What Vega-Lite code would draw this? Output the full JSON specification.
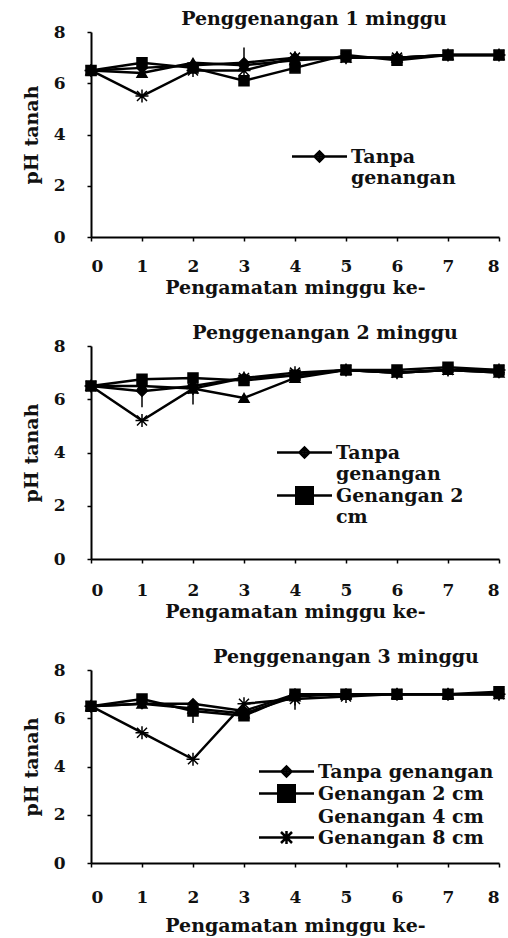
{
  "$schema": "https://vega.github.io/schema/vega-lite/v6.json",
  "background": "white",
  "padding": {"left": 22, "top": 10, "right": 2, "bottom": 2},
  "spacing": 27,
  "config": {
    "view": {"stroke": null},
    "font": "DejaVu Serif",
    "axis": {"domainColor": "black", "domainWidth": 2, "tickColor": "black", "tickWidth": 1.5, "tickSize": 4, "labelFont": "DejaVu Serif", "labelFontSize": 17, "labelFontWeight": "bold", "labelColor": "#111", "titleFont": "DejaVu Serif", "titleFontSize": 19, "titleFontWeight": "bold", "titleColor": "#111", "grid": false},
    "title": {"font": "DejaVu Serif", "fontSize": 19, "fontWeight": "bold", "color": "#111", "offset": -6, "anchor": "middle"},
    "legend": {"symbolSize": 121, "symbolFillColor": "transparent", "symbolStrokeColor": "black", "symbolStrokeWidth": 2.5, "labelFont": "DejaVu Serif", "labelFontSize": 19, "labelFontWeight": "bold", "labelColor": "#111", "labelOffset": 44, "labelLimit": 300, "rowPadding": -2, "labelBaseline": "middle"}
  },
  "datasets": {
    "ph": [
      {"panel":1,"seri":"Tanpa genangan","minggu":0,"pH":6.5},{"panel":1,"seri":"Tanpa genangan","minggu":1,"pH":6.6},{"panel":1,"seri":"Tanpa genangan","minggu":2,"pH":6.7},{"panel":1,"seri":"Tanpa genangan","minggu":3,"pH":6.8},{"panel":1,"seri":"Tanpa genangan","minggu":4,"pH":7.0},{"panel":1,"seri":"Tanpa genangan","minggu":5,"pH":7.0},{"panel":1,"seri":"Tanpa genangan","minggu":6,"pH":7.0},{"panel":1,"seri":"Tanpa genangan","minggu":7,"pH":7.1},{"panel":1,"seri":"Tanpa genangan","minggu":8,"pH":7.1},
      {"panel":1,"seri":"Genangan 2 cm","minggu":0,"pH":6.5},{"panel":1,"seri":"Genangan 2 cm","minggu":1,"pH":6.8},{"panel":1,"seri":"Genangan 2 cm","minggu":2,"pH":6.6},{"panel":1,"seri":"Genangan 2 cm","minggu":3,"pH":6.1},{"panel":1,"seri":"Genangan 2 cm","minggu":4,"pH":6.6},{"panel":1,"seri":"Genangan 2 cm","minggu":5,"pH":7.1},{"panel":1,"seri":"Genangan 2 cm","minggu":6,"pH":6.9},{"panel":1,"seri":"Genangan 2 cm","minggu":7,"pH":7.1},{"panel":1,"seri":"Genangan 2 cm","minggu":8,"pH":7.1},
      {"panel":1,"seri":"Genangan 4 cm","minggu":0,"pH":6.5},{"panel":1,"seri":"Genangan 4 cm","minggu":1,"pH":6.4},{"panel":1,"seri":"Genangan 4 cm","minggu":2,"pH":6.8},{"panel":1,"seri":"Genangan 4 cm","minggu":3,"pH":6.7},{"panel":1,"seri":"Genangan 4 cm","minggu":4,"pH":6.9},{"panel":1,"seri":"Genangan 4 cm","minggu":5,"pH":7.0},{"panel":1,"seri":"Genangan 4 cm","minggu":6,"pH":7.0},{"panel":1,"seri":"Genangan 4 cm","minggu":7,"pH":7.1},{"panel":1,"seri":"Genangan 4 cm","minggu":8,"pH":7.1},
      {"panel":1,"seri":"Genangan 8 cm","minggu":0,"pH":6.5},{"panel":1,"seri":"Genangan 8 cm","minggu":1,"pH":5.5},{"panel":1,"seri":"Genangan 8 cm","minggu":2,"pH":6.5},{"panel":1,"seri":"Genangan 8 cm","minggu":3,"pH":6.5},{"panel":1,"seri":"Genangan 8 cm","minggu":4,"pH":7.0},{"panel":1,"seri":"Genangan 8 cm","minggu":5,"pH":7.0},{"panel":1,"seri":"Genangan 8 cm","minggu":6,"pH":7.0},{"panel":1,"seri":"Genangan 8 cm","minggu":7,"pH":7.1},{"panel":1,"seri":"Genangan 8 cm","minggu":8,"pH":7.1},
      {"panel":2,"seri":"Tanpa genangan","minggu":0,"pH":6.5},{"panel":2,"seri":"Tanpa genangan","minggu":1,"pH":6.3},{"panel":2,"seri":"Tanpa genangan","minggu":2,"pH":6.5},{"panel":2,"seri":"Tanpa genangan","minggu":3,"pH":6.8},{"panel":2,"seri":"Tanpa genangan","minggu":4,"pH":6.9},{"panel":2,"seri":"Tanpa genangan","minggu":5,"pH":7.1},{"panel":2,"seri":"Tanpa genangan","minggu":6,"pH":7.0},{"panel":2,"seri":"Tanpa genangan","minggu":7,"pH":7.1},{"panel":2,"seri":"Tanpa genangan","minggu":8,"pH":7.0},
      {"panel":2,"seri":"Genangan 2 cm","minggu":0,"pH":6.5},{"panel":2,"seri":"Genangan 2 cm","minggu":1,"pH":6.75},{"panel":2,"seri":"Genangan 2 cm","minggu":2,"pH":6.8},{"panel":2,"seri":"Genangan 2 cm","minggu":3,"pH":6.7},{"panel":2,"seri":"Genangan 2 cm","minggu":4,"pH":6.9},{"panel":2,"seri":"Genangan 2 cm","minggu":5,"pH":7.1},{"panel":2,"seri":"Genangan 2 cm","minggu":6,"pH":7.1},{"panel":2,"seri":"Genangan 2 cm","minggu":7,"pH":7.2},{"panel":2,"seri":"Genangan 2 cm","minggu":8,"pH":7.1},
      {"panel":2,"seri":"Genangan 4 cm","minggu":0,"pH":6.5},{"panel":2,"seri":"Genangan 4 cm","minggu":1,"pH":6.5},{"panel":2,"seri":"Genangan 4 cm","minggu":2,"pH":6.4},{"panel":2,"seri":"Genangan 4 cm","minggu":3,"pH":6.05},{"panel":2,"seri":"Genangan 4 cm","minggu":4,"pH":6.8},{"panel":2,"seri":"Genangan 4 cm","minggu":5,"pH":7.1},{"panel":2,"seri":"Genangan 4 cm","minggu":6,"pH":7.0},{"panel":2,"seri":"Genangan 4 cm","minggu":7,"pH":7.1},{"panel":2,"seri":"Genangan 4 cm","minggu":8,"pH":7.0},
      {"panel":2,"seri":"Genangan 8 cm","minggu":0,"pH":6.5},{"panel":2,"seri":"Genangan 8 cm","minggu":1,"pH":5.2},{"panel":2,"seri":"Genangan 8 cm","minggu":2,"pH":6.4},{"panel":2,"seri":"Genangan 8 cm","minggu":3,"pH":6.8},{"panel":2,"seri":"Genangan 8 cm","minggu":4,"pH":7.0},{"panel":2,"seri":"Genangan 8 cm","minggu":5,"pH":7.1},{"panel":2,"seri":"Genangan 8 cm","minggu":6,"pH":7.0},{"panel":2,"seri":"Genangan 8 cm","minggu":7,"pH":7.1},{"panel":2,"seri":"Genangan 8 cm","minggu":8,"pH":7.1},
      {"panel":3,"seri":"Tanpa genangan","minggu":0,"pH":6.5},{"panel":3,"seri":"Tanpa genangan","minggu":1,"pH":6.6},{"panel":3,"seri":"Tanpa genangan","minggu":2,"pH":6.6},{"panel":3,"seri":"Tanpa genangan","minggu":3,"pH":6.3},{"panel":3,"seri":"Tanpa genangan","minggu":4,"pH":7.0},{"panel":3,"seri":"Tanpa genangan","minggu":5,"pH":7.0},{"panel":3,"seri":"Tanpa genangan","minggu":6,"pH":7.0},{"panel":3,"seri":"Tanpa genangan","minggu":7,"pH":7.0},{"panel":3,"seri":"Tanpa genangan","minggu":8,"pH":7.0},
      {"panel":3,"seri":"Genangan 2 cm","minggu":0,"pH":6.5},{"panel":3,"seri":"Genangan 2 cm","minggu":1,"pH":6.8},{"panel":3,"seri":"Genangan 2 cm","minggu":2,"pH":6.3},{"panel":3,"seri":"Genangan 2 cm","minggu":3,"pH":6.1},{"panel":3,"seri":"Genangan 2 cm","minggu":4,"pH":7.0},{"panel":3,"seri":"Genangan 2 cm","minggu":5,"pH":7.0},{"panel":3,"seri":"Genangan 2 cm","minggu":6,"pH":7.0},{"panel":3,"seri":"Genangan 2 cm","minggu":7,"pH":7.0},{"panel":3,"seri":"Genangan 2 cm","minggu":8,"pH":7.1},
      {"panel":3,"seri":"Genangan 4 cm","minggu":0,"pH":6.5},{"panel":3,"seri":"Genangan 4 cm","minggu":1,"pH":6.6},{"panel":3,"seri":"Genangan 4 cm","minggu":2,"pH":6.4},{"panel":3,"seri":"Genangan 4 cm","minggu":3,"pH":6.2},{"panel":3,"seri":"Genangan 4 cm","minggu":4,"pH":6.9},{"panel":3,"seri":"Genangan 4 cm","minggu":5,"pH":7.0},{"panel":3,"seri":"Genangan 4 cm","minggu":6,"pH":7.0},{"panel":3,"seri":"Genangan 4 cm","minggu":7,"pH":7.0},{"panel":3,"seri":"Genangan 4 cm","minggu":8,"pH":7.0},
      {"panel":3,"seri":"Genangan 8 cm","minggu":0,"pH":6.5},{"panel":3,"seri":"Genangan 8 cm","minggu":1,"pH":5.4},{"panel":3,"seri":"Genangan 8 cm","minggu":2,"pH":4.3},{"panel":3,"seri":"Genangan 8 cm","minggu":3,"pH":6.6},{"panel":3,"seri":"Genangan 8 cm","minggu":4,"pH":6.8},{"panel":3,"seri":"Genangan 8 cm","minggu":5,"pH":6.9},{"panel":3,"seri":"Genangan 8 cm","minggu":6,"pH":7.0},{"panel":3,"seri":"Genangan 8 cm","minggu":7,"pH":7.0},{"panel":3,"seri":"Genangan 8 cm","minggu":8,"pH":7.0}
    ],
    "err": [
      {"panel":1,"minggu":3,"lo":6.7,"hi":7.4},
      {"panel":2,"minggu":1,"lo":5.7,"hi":6.3},
      {"panel":2,"minggu":2,"lo":5.8,"hi":6.4},
      {"panel":3,"minggu":2,"lo":5.8,"hi":6.3},
      {"panel":3,"minggu":4,"lo":6.35,"hi":6.8}
    ]
  },
  "vconcat": [
    {
      "width": 408, "height": 205,
      "title": {"text": "Penggenangan 1 minggu", "dx": 19},
      "data": {"name": "ph"},
      "transform": [{"filter": "datum.panel == 1"}],
      "encoding": {
        "x": {"field": "minggu", "type": "quantitative", "scale": {"domain": [0, 8], "nice": false}, "axis": {"values": [0,1,2,3,4,5,6,7,8], "title": "Pengamatan minggu ke-", "labelPadding": 17, "titlePadding": 4}},
        "y": {"field": "pH", "type": "quantitative", "scale": {"domain": [0, 8]}, "axis": {"values": [0,2,4,6,8], "title": "pH tanah", "labelPadding": 22, "titlePadding": 12}}
      },
      "layer": [
        {"data": {"name": "err"}, "transform": [{"filter": "datum.panel == 1"}], "mark": {"type": "rule", "color": "black", "strokeWidth": 1.5}, "encoding": {"y": {"field": "lo", "type": "quantitative"}, "y2": {"field": "hi"}}},
        {"mark": {"type": "line", "color": "black", "strokeWidth": 2.5}, "encoding": {"detail": {"field": "seri", "type": "nominal"}}},
        {"mark": {"type": "point", "filled": true, "color": "black", "stroke": "black", "strokeWidth": 1.5, "size": 100, "opacity": 1}, "encoding": {"shape": {"field": "seri", "type": "nominal", "scale": {"domain": ["Tanpa genangan","Genangan 2 cm","Genangan 4 cm","Genangan 8 cm"], "range": ["diamond","square","triangle-up","M-1,-1L1,1M-1,1L1,-1M0,-1.3L0,1.3M-1.3,0L1.3,0"]}, "legend": null}}},
        {"transform": [{"filter": "datum.minggu < 0"}], "mark": {"type": "point", "filled": false, "color": "black", "strokeWidth": 2.5, "opacity": 1}, "encoding": {"shape": {"field": "seri", "type": "nominal", "scale": {"domain": ["Tanpa genangan","Genangan 2 cm","Genangan 4 cm","Genangan 8 cm"], "range": ["M-1,0L9,0M3.1,0L4,-0.9L4.9,0L4,0.9ZM3.5,0L4.5,0M4,-0.5L4,0.5","M-1,0L9,0M2.5,-1.5L5.5,-1.5L5.5,1.5L2.5,1.5ZM2.5,-1.05L5.5,-1.05M2.5,-0.6L5.5,-0.6M2.5,-0.15L5.5,-0.15M2.5,0.3L5.5,0.3M2.5,0.75L5.5,0.75M2.5,1.2L5.5,1.2","M0,0L0,0","M-1,0L9,0M3,-1L5,1M3,1L5,-1M4,-1.2L4,1.2"]}, "legend": {"values": ["Tanpa genangan"], "orient": "none", "legendX": 197, "legendY": 115, "title": null, "labelExpr": "datum.label == 'Tanpa genangan' ? ['Tanpa', 'genangan'] : datum.label"}}}}
      ],
      "resolve": {"scale": {"shape": "independent"}}
    },
    {
      "width": 408, "height": 213,
      "title": {"text": "Penggenangan 2 minggu", "dx": 30},
      "data": {"name": "ph"},
      "transform": [{"filter": "datum.panel == 2"}],
      "encoding": {
        "x": {"field": "minggu", "type": "quantitative", "scale": {"domain": [0, 8], "nice": false}, "axis": {"values": [0,1,2,3,4,5,6,7,8], "title": "Pengamatan minggu ke-", "labelPadding": 19, "titlePadding": 4}},
        "y": {"field": "pH", "type": "quantitative", "scale": {"domain": [0, 8]}, "axis": {"values": [0,2,4,6,8], "title": "pH tanah", "labelPadding": 22, "titlePadding": 12}}
      },
      "layer": [
        {"data": {"name": "err"}, "transform": [{"filter": "datum.panel == 2"}], "mark": {"type": "rule", "color": "black", "strokeWidth": 1.5}, "encoding": {"y": {"field": "lo", "type": "quantitative"}, "y2": {"field": "hi"}}},
        {"mark": {"type": "line", "color": "black", "strokeWidth": 2.5}, "encoding": {"detail": {"field": "seri", "type": "nominal"}}},
        {"mark": {"type": "point", "filled": true, "color": "black", "stroke": "black", "strokeWidth": 1.5, "size": 100, "opacity": 1}, "encoding": {"shape": {"field": "seri", "type": "nominal", "scale": {"domain": ["Tanpa genangan","Genangan 2 cm","Genangan 4 cm","Genangan 8 cm"], "range": ["diamond","square","triangle-up","M-1,-1L1,1M-1,1L1,-1M0,-1.3L0,1.3M-1.3,0L1.3,0"]}, "legend": null}}},
        {"transform": [{"filter": "datum.minggu < 0"}], "mark": {"type": "point", "filled": false, "color": "black", "strokeWidth": 2.5, "opacity": 1}, "encoding": {"shape": {"field": "seri", "type": "nominal", "scale": {"domain": ["Tanpa genangan","Genangan 2 cm","Genangan 4 cm","Genangan 8 cm"], "range": ["M-1,0L9,0M3.1,0L4,-0.9L4.9,0L4,0.9ZM3.5,0L4.5,0M4,-0.5L4,0.5","M-1,0L9,0M2.5,-1.5L5.5,-1.5L5.5,1.5L2.5,1.5ZM2.5,-1.05L5.5,-1.05M2.5,-0.6L5.5,-0.6M2.5,-0.15L5.5,-0.15M2.5,0.3L5.5,0.3M2.5,0.75L5.5,0.75M2.5,1.2L5.5,1.2","M0,0L0,0","M-1,0L9,0M3,-1L5,1M3,1L5,-1M4,-1.2L4,1.2"]}, "legend": {"values": ["Tanpa genangan","Genangan 2 cm"], "orient": "none", "legendX": 182, "legendY": 97, "title": null, "rowPadding": -2, "labelExpr": "datum.label == 'Tanpa genangan' ? ['Tanpa', 'genangan'] : datum.label == 'Genangan 2 cm' ? ['Genangan 2', 'cm'] : datum.label"}}}}
      ],
      "resolve": {"scale": {"shape": "independent"}}
    },
    {
      "width": 408, "height": 193,
      "title": {"text": "Penggenangan 3 minggu", "dx": 51},
      "data": {"name": "ph"},
      "transform": [{"filter": "datum.panel == 3"}],
      "encoding": {
        "x": {"field": "minggu", "type": "quantitative", "scale": {"domain": [0, 8], "nice": false}, "axis": {"values": [0,1,2,3,4,5,6,7,8], "title": "Pengamatan minggu ke-", "labelPadding": 22, "titlePadding": 11}},
        "y": {"field": "pH", "type": "quantitative", "scale": {"domain": [0, 8]}, "axis": {"values": [0,2,4,6,8], "title": "pH tanah", "labelPadding": 22, "titlePadding": 12}}
      },
      "layer": [
        {"data": {"name": "err"}, "transform": [{"filter": "datum.panel == 3"}], "mark": {"type": "rule", "color": "black", "strokeWidth": 1.5}, "encoding": {"y": {"field": "lo", "type": "quantitative"}, "y2": {"field": "hi"}}},
        {"mark": {"type": "line", "color": "black", "strokeWidth": 2.5}, "encoding": {"detail": {"field": "seri", "type": "nominal"}}},
        {"mark": {"type": "point", "filled": true, "color": "black", "stroke": "black", "strokeWidth": 1.5, "size": 100, "opacity": 1}, "encoding": {"shape": {"field": "seri", "type": "nominal", "scale": {"domain": ["Tanpa genangan","Genangan 2 cm","Genangan 4 cm","Genangan 8 cm"], "range": ["diamond","square","triangle-up","M-1,-1L1,1M-1,1L1,-1M0,-1.3L0,1.3M-1.3,0L1.3,0"]}, "legend": null}}},
        {"transform": [{"filter": "datum.minggu < 0"}], "mark": {"type": "point", "filled": false, "color": "black", "strokeWidth": 2.5, "opacity": 1}, "encoding": {"shape": {"field": "seri", "type": "nominal", "scale": {"domain": ["Tanpa genangan","Genangan 2 cm","Genangan 4 cm","Genangan 8 cm"], "range": ["M-1,0L9,0M3.1,0L4,-0.9L4.9,0L4,0.9ZM3.5,0L4.5,0M4,-0.5L4,0.5","M-1,0L9,0M2.5,-1.5L5.5,-1.5L5.5,1.5L2.5,1.5ZM2.5,-1.05L5.5,-1.05M2.5,-0.6L5.5,-0.6M2.5,-0.15L5.5,-0.15M2.5,0.3L5.5,0.3M2.5,0.75L5.5,0.75M2.5,1.2L5.5,1.2","M0,0L0,0","M-1,0L9,0M3,-1L5,1M3,1L5,-1M4,-1.2L4,1.2"]}, "legend": {"values": ["Tanpa genangan","Genangan 2 cm","Genangan 4 cm","Genangan 8 cm"], "orient": "none", "legendX": 164, "legendY": 92, "title": null, "rowPadding": -2}}}}
      ],
      "resolve": {"scale": {"shape": "independent"}}
    }
  ]
}
